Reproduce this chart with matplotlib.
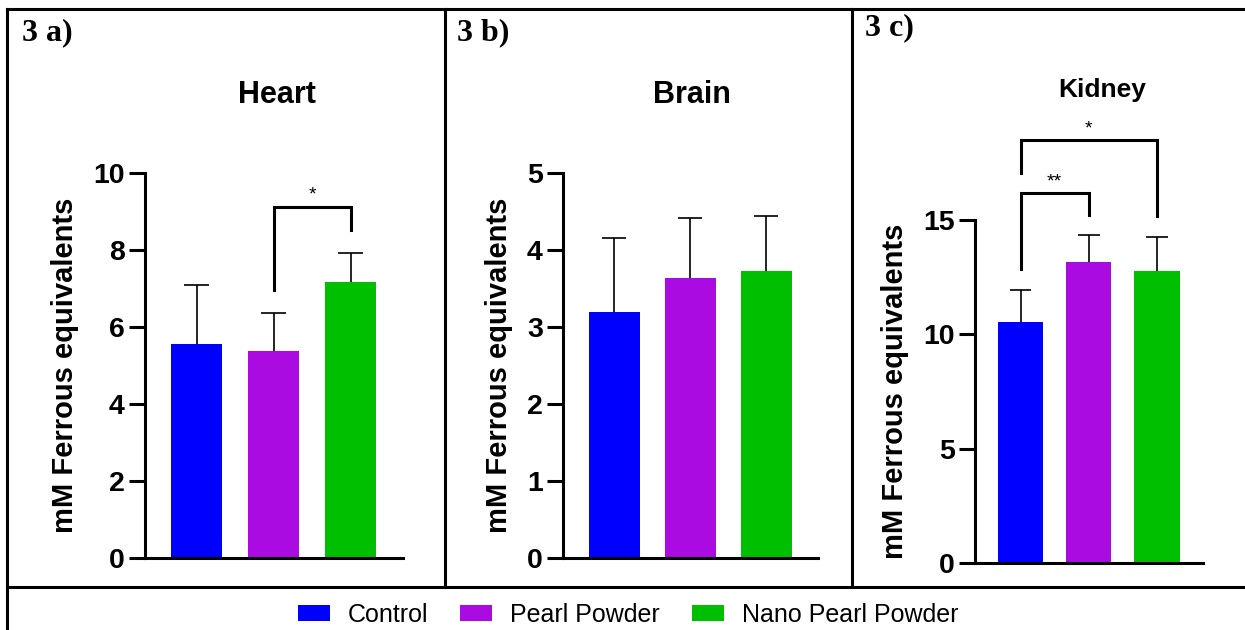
import numpy as np
import matplotlib
matplotlib.use("Agg")
import matplotlib.pyplot as plt
from matplotlib.lines import Line2D
from matplotlib.patches import Patch

plt.rcParams['font.family'] = ['Liberation Sans', 'DejaVu Sans']

# data
groups = ['Control', 'Pearl Powder', 'Nano Pearl Powder']
colors = ['#0000FF', '#A90BE0', '#00BF00']

heart_mean = [5.55, 5.37, 7.16]
heart_sd = [1.54, 0.99, 0.77]
brain_mean = [3.20, 3.63, 3.73]
brain_sd = [0.96, 0.78, 0.71]
kidney_mean = [10.55, 13.17, 12.78]
kidney_sd = [1.38, 1.17, 1.49]

heart_ticks = [0, 2, 4, 6, 8, 10]
brain_ticks = [0, 1, 2, 3, 4, 5]
kidney_ticks = [0, 5, 10, 15]

# significance brackets: (left bar, right bar, height, left leg end, right leg end, label)
heart_sig = [(1, 2, 9.12, 6.96, 8.52, '*')]
brain_sig = []
kidney_sig = [(0, 1, 16.16, 12.84, 15.22, '**'),
              (0, 2, 18.50, 17.04, 15.17, '*')]

W, H = 1245, 630
fig = plt.figure(figsize=(W / 100, H / 100), dpi=100)


def fx(px):
    return px / W


def fy(py):
    return 1 - py / H


def panel(rect, means, sds, ticks, sig, ylab_pad=10):
    l, t, r, b = rect
    ax = fig.add_axes([fx(l), fy(b), fx(r - l), fy(t) - fy(b)])
    x = np.arange(len(means))
    ax.bar(x, means, width=0.67, color=colors, linewidth=0, zorder=1)
    tops = np.array(means) + np.array(sds)
    ax.vlines(x, means, tops, color='black', lw=1.2, zorder=2)
    ax.hlines(tops, x - 0.16, x + 0.16, color='black', lw=1.2, zorder=2)
    ax.set_xlim(-0.67, 2.68)
    ax.set_ylim(ticks[0], ticks[-1])
    ax.set_yticks(ticks)
    ax.set_xticks([])
    for s in ['top', 'right']:
        ax.spines[s].set_visible(False)
    for s in ['left', 'bottom']:
        ax.spines[s].set_linewidth(2.2)
    ax.tick_params(axis='y', length=11.5, width=2.2, pad=3, labelsize=20.5)
    for lab in ax.get_yticklabels():
        lab.set_fontweight('bold')
    ax.set_ylabel('mM Ferrous equivalents', fontsize=21, fontweight='bold',
                  labelpad=ylab_pad)
    for i, j, yb, li, lj, txt in sig:
        ax.plot([i, i, j, j], [li, yb, yb, lj], color='black', lw=2.2,
                clip_on=False, solid_joinstyle='miter')
        span = ticks[-1] - ticks[0]
        ax.text((i + j) / 2, yb + span * 0.02, txt, ha='center', va='baseline',
                fontsize=14, clip_on=False)
    ax.patch.set_visible(False)
    return ax


panel((145, 173, 403, 558), heart_mean, heart_sd, heart_ticks, heart_sig)
panel((563, 173, 818, 558), brain_mean, brain_sd, brain_ticks, brain_sig)
panel((975, 220, 1203, 563), kidney_mean, kidney_sd, kidney_ticks, kidney_sig)

# panel titles
fig.text(fx(277), fy(103), 'Heart', ha='center', va='baseline', fontsize=22, fontweight='bold')
fig.text(fx(692), fy(103), 'Brain', ha='center', va='baseline', fontsize=22, fontweight='bold')
fig.text(fx(1102), fy(97), 'Kidney', ha='center', va='baseline', fontsize=19, fontweight='bold')

# panel letters
for px, py, s in [(22, 40, '3 a)'), (457, 40, '3 b)'), (865, 35, '3 c)')]:
    fig.text(fx(px), fy(py), s, ha='left', va='baseline', fontsize=23,
             fontweight='bold', family='Liberation Serif')

# table borders
lw = 2.2
for xs, ys in [([7, W], [9, 9]), ([7, 7], [9, H]), ([7, W], [587, 587]),
               ([445, 445], [9, 587]), ([852, 852], [9, 587])]:
    fig.add_artist(Line2D([fx(v) for v in xs], [fy(v) for v in ys],
                          color='black', lw=lw, transform=fig.transFigure))

handles = [Patch(facecolor=c, edgecolor='none') for c in colors]
fig.legend(handles, groups, loc='center', bbox_to_anchor=(fx(628), fy(615)),
           ncol=3, frameon=False, fontsize=18, handlelength=1.28,
           handleheight=0.6, handletextpad=0.72, columnspacing=1.28,
           borderpad=0)

fig.savefig('out.png', dpi=100)
